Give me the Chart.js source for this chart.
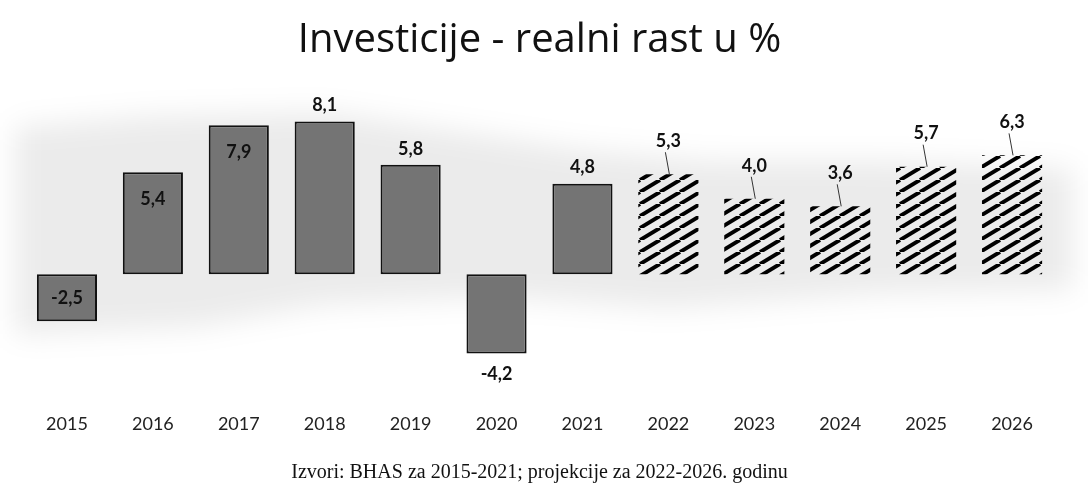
<!DOCTYPE html>
<html>
<head>
<meta charset="utf-8">
<script src="https://cdn.jsdelivr.net/npm/chart.js@4.4.1/dist/chart.umd.min.js"></script>
<style>
	body { margin: 0; background: #fff; }
	#wrap { width: 1088px; height: 488px; }
</style>
</head>
<body>
<div id="wrap"><canvas id="graf"></canvas></div>
<script>
// podaci
const godine = ["2015", "2016", "2017", "2018", "2019", "2020", "2021", "2022", "2023", "2024", "2025", "2026"];
const rast = [-2.5, 5.4, 7.9, 8.1, 5.8, -4.2, 4.8, 5.3, 4.0, 3.6, 5.7, 6.3];
const izvor = ["BHAS", "BHAS", "BHAS", "BHAS", "BHAS", "BHAS", "BHAS", "projekcija", "projekcija", "projekcija", "projekcija", "projekcija"];

// srafura za projekcije
function srafura(){
	const c = document.createElement("canvas");
	c.width = 20; c.height = 12;
	const g = c.getContext("2d");
	g.strokeStyle = "#000";
	g.lineWidth = 4;
	for (const dx of [-20, 0, 20]){
		g.beginPath();
		g.moveTo(dx, 12);
		g.lineTo(dx + 20, 0);
		g.stroke();
	}
	return g.createPattern(c, "repeat");
}
const uzorak = srafura();

// sivi "oblak" iza stubaca (sjena iz originala)
const pozadina = {
	id: "pozadina",
	beforeDatasetsDraw(chart){
		const {ctx, scales: {x, y}} = chart;
		const gore = [[-0.6, 7.8], [1, 8.4], [3, 8.6], [4.5, 7.6], [6, 6.6], [7.5, 6.0], [9.5, 6.0], [11.7, 5.6]];
		const dole = [[11.7, -0.8], [9.5, -1.0], [7, -1.8], [5, -1.2], [3, -1.6], [1.5, -2.8], [-0.6, -3.2]];
		ctx.save();
		ctx.filter = "blur(14px)";
		ctx.fillStyle = "rgba(0,0,0,0.08)";
		ctx.beginPath();
		[...gore, ...dole].forEach(([i, v], k) => {
			const px = x.getPixelForValue(0) + i * (x.getPixelForValue(1) - x.getPixelForValue(0));
			const py = y.getPixelForValue(v);
			if (k === 0) ctx.moveTo(px, py); else ctx.lineTo(px, py);
		});
		ctx.closePath();
		ctx.fill();
		ctx.restore();
	}
};

// vrijednosti na stupcima
const oznake = {
	id: "oznake",
	afterDatasetsDraw(chart, args, opts){
		const ctx = chart.ctx;
		const meta = chart.getDatasetMeta(0);
		ctx.save();
		ctx.font = opts.font;
		ctx.fillStyle = "#111";
		ctx.textAlign = "center";
		ctx.textBaseline = "middle";
		meta.data.forEach((bar, i) => {
			const v = rast[i];
			const txt = (v < 0 ? "-" : "") + Math.abs(v).toFixed(1).replace(".", ",");
			const top = Math.min(bar.y, bar.base);
			const bottom = Math.max(bar.y, bar.base);
			let ty;
			switch (opts.polozaj[i]){
				case "sredina": ty = (top + bottom) / 2; break;
				case "unutra": ty = top + 27; break;
				case "iznad": ty = top - 16; break;
				case "ispod": ty = bottom + 21; break;
				default:
					ty = top - 33;
					ctx.strokeStyle = "#333";
					ctx.lineWidth = 1;
					ctx.beginPath();
					ctx.moveTo(bar.x - 3, ty + 11);
					ctx.lineTo(bar.x + 1, top);
					ctx.stroke();
			}
			ctx.fillText(txt, bar.x, ty);
		});
		ctx.restore();
	}
};

new Chart(document.querySelector("#graf"), {
	type: "bar",
	data: {
		labels: godine,
		datasets: [{
			data: rast,
			backgroundColor: izvor.map(s => s === "BHAS" ? "#747474" : uzorak),
			borderColor: "#111",
			borderWidth: izvor.map(s => s === "BHAS" ? 2 : 0),
			borderSkipped: false,
			barPercentage: 0.7,
			categoryPercentage: 1,
		}],
	},
	options: {
		responsive: true,
		maintainAspectRatio: false,
		animation: false,
		layout: { padding: { left: 24, right: 33, top: 0, bottom: 0 } },
		scales: {
			x: {
				grid: { display: false, drawTicks: false },
				border: { display: false },
				ticks: { color: "#222", padding: 26, font: { family: "Lato", size: 18 } },
			},
			y: { display: false, min: -6, max: 9.5 },
		},
		plugins: {
			legend: { display: false },
			tooltip: { enabled: false },
			title: {
				display: true,
				text: "Investicije - realni rast u %",
				color: "#111",
				font: { family: "Open Sans", size: 40, weight: "normal" },
				padding: { top: 17, bottom: 30 },
			},
			subtitle: {
				display: true,
				position: "bottom",
				text: "Izvori: BHAS za 2015-2021; projekcije za 2022-2026. godinu",
				color: "#111",
				font: { family: "Liberation Serif", size: 20 },
				padding: { top: 0, bottom: 3 },
			},
			oznake: {
				font: "bold 18px Lato",
				polozaj: ["sredina", "unutra", "unutra", "iznad", "iznad", "ispod", "iznad", "crta", "crta", "crta", "crta", "crta"],
			},
		},
	},
	plugins: [pozadina, oznake],
});
</script>
</body>
</html>
